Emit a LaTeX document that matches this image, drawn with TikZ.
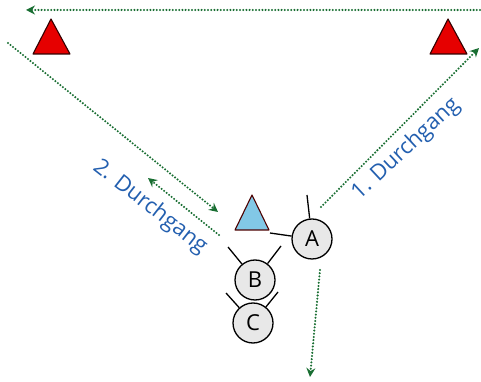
\documentclass[tikz,border=0pt]{standalone}
\usepackage{fontspec}
\setmainfont{Open Sans}
\usepackage{tkz-euclide}
\usetikzlibrary{arrows.meta}
\definecolor{wegfarbe}{RGB}{25,110,50}
\definecolor{textblau}{RGB}{35,95,175}
\definecolor{kegelrot}{RGB}{230,0,0}
\definecolor{kegelblau}{RGB}{130,200,230}

\begin{document}
\begin{tikzpicture}[x=1pt, y=1pt,
    weg/.style={draw=wegfarbe, line width=2.3pt, dash pattern=on 0pt off 3.2pt, line cap=round,
                -{Stealth[length=9pt, width=9pt, inset=3pt]}},
    spieler/.style={circle, draw=black, line width=1.3pt, fill=gray!18, minimum size=40pt,
                    inner sep=0pt, font=\fontsize{22}{22}\selectfont},
    griff/.style={black, line width=1.3pt},
    beschriftung/.style={text=textblau, font=\fontsize{22}{22}\selectfont}]
                \useasboundingbox (0,0) rectangle (481,382);
                \tkzDefPoints{33/328/R_1, 70/328/R_2, 51/363/R_3, 430/328/S_1, 467/328/S_2, 448/363/S_3}
                \tkzDefPoints{235/152/K_1, 269/152/K_2, 252/187/K_3}
                \tkzDefPoints{312/143/M_A, 255/102/M_B, 253/59/M_C}
                \tkzDefPoints{480/372/P_1, 26/372/P_2, 8/339/P_3, 218/170/P_4, 219/147/P_5, 148/204/P_6}
                \tkzDefPoints{321/175/P_7, 479/334/P_8, 320/112/P_9, 310/5/P_10}
                \tkzDefPoints{307/187/H_1, 270/149/H_2, 228/135/H_3, 281/136/H_4, 226/89/H_5, 278/90/H_6}
                % Kegel
                \tkzDrawPolygon[draw=black!80!red, line width=1.1pt, fill=kegelrot](R_1,R_2,R_3)
                \tkzDrawPolygon[draw=black!80!red, line width=1.1pt, fill=kegelrot](S_1,S_2,S_3)
                \tkzDrawPolygon[draw=black!70!red, line width=1.1pt, fill=kegelblau](K_1,K_2,K_3)
                % Laufwege
                \tkzDrawSegments[weg](P_1,P_2 P_3,P_4 P_5,P_6 P_7,P_8 P_9,P_10)
                % Spieler
                \node[spieler] (A) at (M_A) {A};
                \node[spieler] (B) at (M_B) {B};
                \node[spieler] (C) at (M_C) {C};
                \draw[griff] (A) -- (H_1);
                \draw[griff] (A) -- (H_2);
                \draw[griff] (B) -- (H_3);
                \draw[griff] (B) -- (H_4);
                \draw[griff] (C) -- (H_5);
                \draw[griff] (C) -- (H_6);
                % Texte
                \node[beschriftung, rotate=43] (d1) at (406,233) {1. Durchgang};
                \node[beschriftung, rotate=-38] (d2) at (150,175) {2. Durchgang};
            \end{tikzpicture}
\end{document}
